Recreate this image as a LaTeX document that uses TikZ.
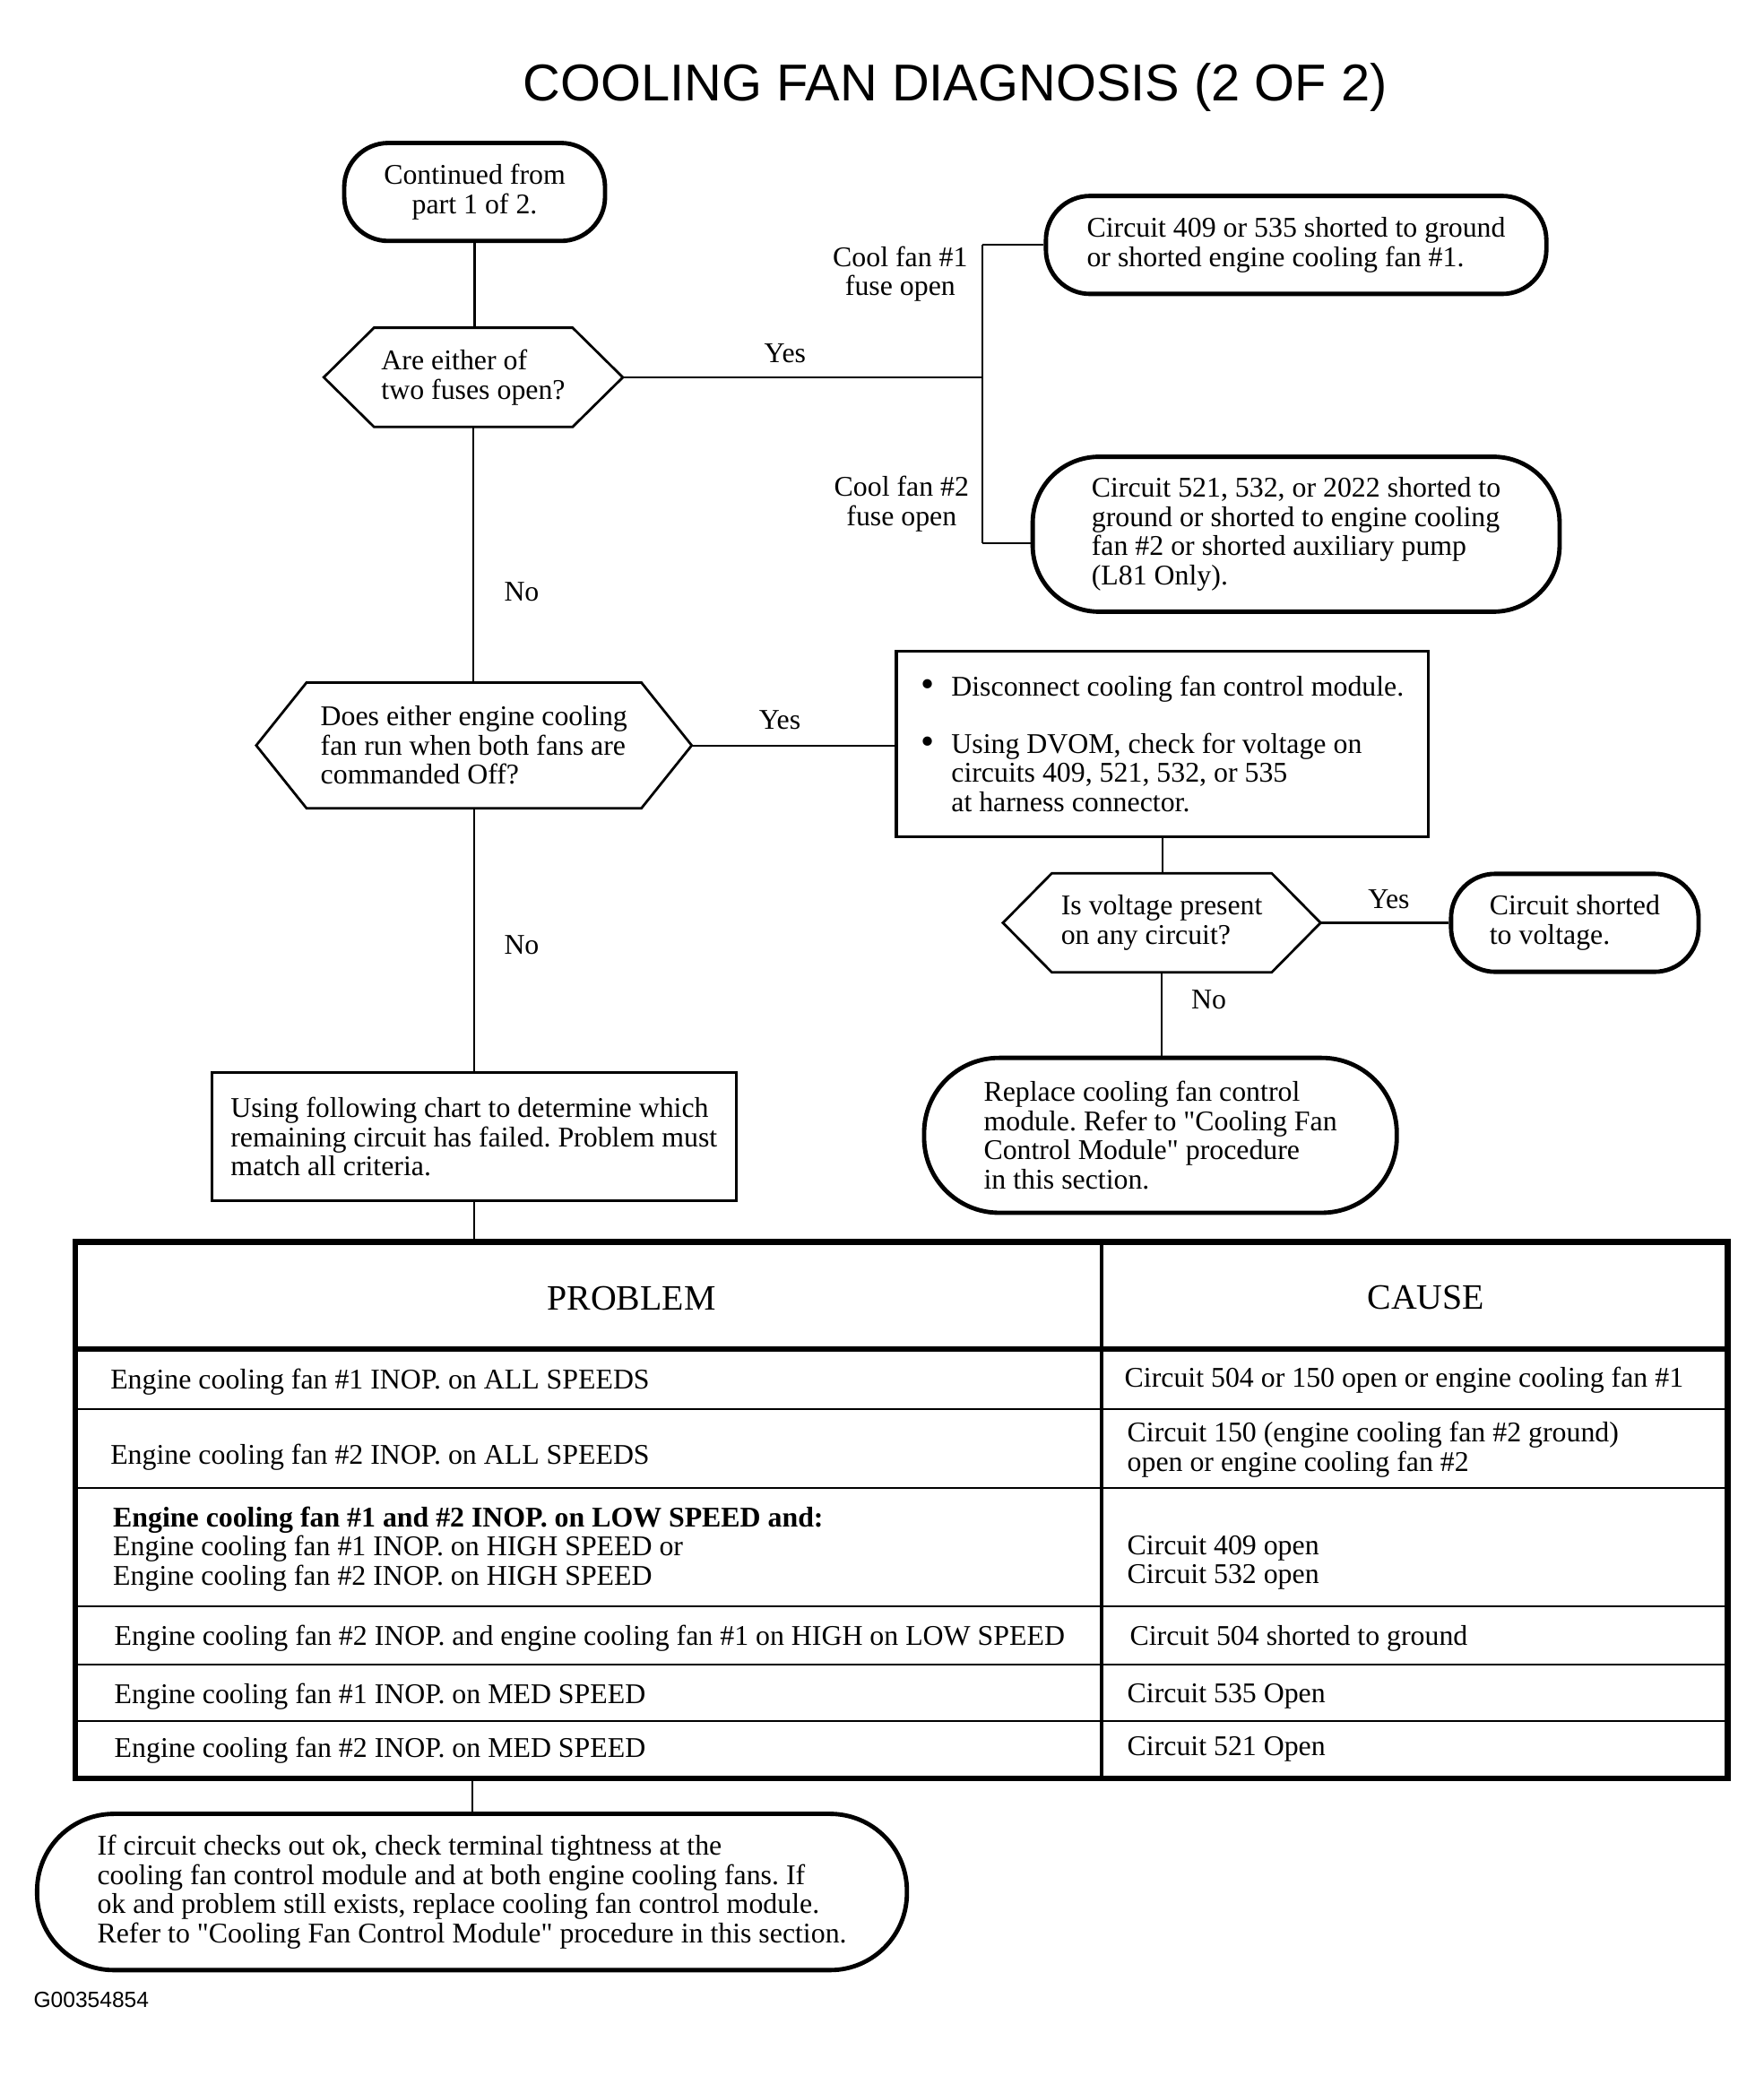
\documentclass[tikz,border=0pt]{standalone}
\usepackage{fontspec}
\setmainfont{Liberation Serif}
\setsansfont{Liberation Sans}
\usetikzlibrary{calc}
\frenchspacing
\newcommand{\bodyfont}{\fontsize{9.2pt}{9.4pt}\selectfont}
\newcommand{\bul}{\makebox[0.345cm][l]{\raisebox{-0.05ex}{\scalebox{1.35}{\textbullet}}}}
\newcommand{\nobul}{\hspace*{0.345cm}}
\newcommand{\qq}{\textquotedbl}
\def\uu{0.015cm}
\newcommand{\hexoutline}[2]{%
  \draw[hexline] (#1.west) -- ([xshift=#2*\uu]#1.north west) -- ([xshift=-#2*\uu]#1.north east)
    -- (#1.east) -- ([xshift=-#2*\uu]#1.south east) -- ([xshift=#2*\uu]#1.south west) -- cycle;}
\tikzset{
  body/.style={font=\bodyfont},
  rbox/.style={draw, line width=1.4pt, align=left, inner sep=0pt, body},
  sbox/.style={draw, line width=1pt, align=left, inner sep=0pt, body},
  hexn/.style={align=left, inner sep=0pt, body},
  hexline/.style={line width=0.8pt, line join=miter},
  conn/.style={line width=0.6pt},
  lbl/.style={body, inner sep=0pt},
  cell/.style={body, inner sep=0pt, anchor=base west},
  thinrule/.style={line width=0.6pt},
}
\begin{document}
\begin{tikzpicture}[x=0.015cm, y=-0.015cm]
\useasboundingbox (0,0) rectangle (1332,1568);

% title
\node[font=\sffamily\fontsize{16.7pt}{18pt}\selectfont, inner sep=0pt] (title) at (721.5,66) {COOLING FAN DIAGNOSIS (2 OF 2)};

% flow nodes
\node[rbox, rounded corners=0.5cm, minimum width=197*\uu, minimum height=74*\uu, align=center] (start) at (358.5,145) {Continued from\\part 1 of 2.};

\node[hexn, minimum width=225*\uu, minimum height=74*\uu] (h1) at (357.5,285) {Are either of\\two fuses open?};
\hexoutline{h1}{38}

\node[rbox, rounded corners=0.5cm, minimum width=378*\uu, minimum height=74*\uu] (c409) at (979,185) {Circuit 409 or 535 shorted to ground\\or shorted engine cooling fan \#1.};

\node[rbox, rounded corners=0.75cm, minimum width=398*\uu, minimum height=117*\uu] (c521) at (979,403.5) {Circuit 521, 532, or 2022 shorted to\\ground or shorted to engine cooling\\fan \#2 or shorted auxiliary pump\\(L81 Only).};

\node[hexn, minimum width=328*\uu, minimum height=94*\uu] (h2) at (358,563) {Does either engine cooling\\fan run when both fans are\\commanded Off?};
\hexoutline{h2}{38}

\node[sbox, minimum width=402*\uu, minimum height=140*\uu] (disc) at (878,562) {\bul Disconnect cooling fan control module.\\[0.315cm]\bul Using DVOM, check for voltage on\\\nobul circuits 409, 521, 532, or 535\\\nobul at harness connector.};

\node[hexn, minimum width=239*\uu, minimum height=74*\uu] (h3) at (877.5,697) {Is voltage present\\on any circuit?};
\hexoutline{h3}{37}

\node[rbox, rounded corners=0.5cm, minimum width=187*\uu, minimum height=74*\uu] (cshort) at (1189.5,697) {Circuit shorted\\to voltage.};

\node[rbox, rounded corners=0.85cm, minimum width=357*\uu, minimum height=117*\uu] (repl) at (876.5,857.5) {Replace cooling fan control\\module. Refer to \qq Cooling Fan\\Control Module\qq{} procedure\\in this section.};

\node[sbox, minimum width=396*\uu, minimum height=97*\uu] (chart) at (358,858.5) {Using following chart to determine which\\remaining circuit has failed. Problem must\\match all criteria.};

\node[draw, line width=1.8pt, inner sep=0pt, minimum width=1248*\uu, minimum height=405*\uu] (tab) at (681,1140.5) {};

\node[rbox, rounded corners=0.87cm, minimum width=657*\uu, minimum height=118*\uu] (final) at (356.5,1429) {If circuit checks out ok, check terminal tightness at the\\cooling fan control module and at both engine cooling fans. If\\ok and problem still exists, replace cooling fan control module.\\Refer to \qq Cooling Fan Control Module\qq{} procedure in this section.};

% junctions
\coordinate (j1) at (742,285);
\coordinate (j2) at (742,185);
\coordinate (j3) at (742,410);

% connectors
\draw[conn] (start.south) -- (start.south |- h1.north);
\draw[conn] (h1.south) -- (h1.south |- h2.north);
\draw[conn] (h2.south) -- (h2.south |- chart.north);
\draw[conn] (chart.south) -- (chart.south |- tab.north);
\draw[conn] (final.north |- tab.south) -- (final.north);
\draw[conn] (h1.east) -- (j1);
\draw[conn] (j2) -- (j3);
\draw[conn] (j2) -- (c409.west);
\draw[conn] (j3) -- (j3 -| c521.west);
\draw[conn] (h2.east) -- (h2.east -| disc.west);
\draw[conn] (disc.south) -- (disc.south |- h3.north);
\draw[conn] (h3.east) -- (cshort.west);
\draw[conn] (h3.south) -- (h3.south |- repl.north);

% connector labels
\node[lbl] (y1) at (593,267) {Yes};
\node[lbl] (n1) at (394,447) {No};
\node[lbl] (y2) at (589,544) {Yes};
\node[lbl] (n2) at (394,714) {No};
\node[lbl] (y3) at (1049,679) {Yes};
\node[lbl] (n3) at (913,755) {No};
\node[lbl, align=center] (f1) at (680,207) {Cool fan \#1\\fuse open};
\node[lbl, align=center] (f2) at (681,380.5) {Cool fan \#2\\fuse open};

% table rules
\draw[line width=1.2pt] (832,938) -- (832,1343);
\draw[line width=1.6pt] (57,1019) -- (1305,1019);
\foreach \yy in {1064,1124,1213,1257,1300} \draw[thinrule] (57,\yy) -- (1305,\yy);

% table header
\node[font=\fontsize{11.5pt}{12pt}\selectfont, inner sep=0pt] (hp) at (477,981) {PROBLEM};
\node[font=\fontsize{11.5pt}{12pt}\selectfont, inner sep=0pt] (hc) at (1077,980) {CAUSE};

% table cells
\node[cell] (r1a) at (83,1049) {Engine cooling fan \#1 INOP. on ALL SPEEDS};
\node[cell] (r1b) at (849,1048) {Circuit 504 or 150 open or engine cooling fan \#1};
\node[cell] (r2a) at (83,1106) {Engine cooling fan \#2 INOP. on ALL SPEEDS};
\node[cell] (r2b) at (851,1089) {Circuit 150 (engine cooling fan \#2 ground)};
\node[cell] (r2c) at (851,1111) {open or engine cooling fan \#2};
\node[cell, font=\bodyfont\bfseries] (r3a) at (85,1153) {Engine cooling fan \#1 and \#2 INOP. on LOW SPEED and:};
\node[cell] (r3b) at (85,1175) {Engine cooling fan \#1 INOP. on HIGH SPEED or};
\node[cell] (r3c) at (85,1197) {Engine cooling fan \#2 INOP. on HIGH SPEED};
\node[cell] (r3d) at (851,1174) {Circuit 409 open};
\node[cell] (r3e) at (851,1196) {Circuit 532 open};
\node[cell] (r4a) at (86,1243) {Engine cooling fan \#2 INOP. and engine cooling fan \#1 on HIGH on LOW SPEED};
\node[cell] (r4b) at (853,1243) {Circuit 504 shorted to ground};
\node[cell] (r5a) at (86,1287) {Engine cooling fan \#1 INOP. on MED SPEED};
\node[cell] (r5b) at (851,1286) {Circuit 535 Open};
\node[cell] (r6a) at (86,1327) {Engine cooling fan \#2 INOP. on MED SPEED};
\node[cell] (r6b) at (851,1326) {Circuit 521 Open};

% figure id
\node[font=\sffamily\fontsize{7.1pt}{8pt}\selectfont, inner sep=0pt, anchor=west] (gid) at (25,1510.5) {G00354854};
\end{tikzpicture}
\end{document}
